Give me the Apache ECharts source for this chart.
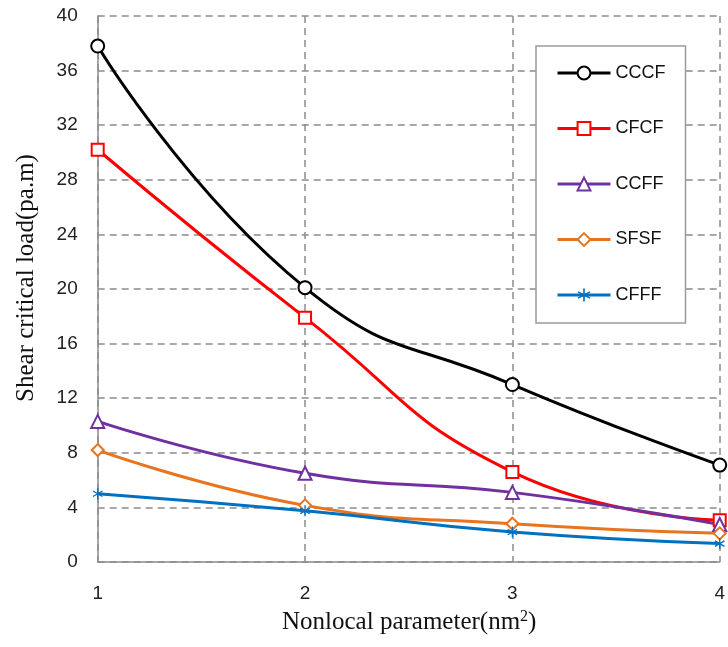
<!DOCTYPE html>
<html>
<head>
<meta charset="utf-8">
<script src="https://cdn.jsdelivr.net/npm/echarts@6/dist/echarts.min.js"></script>
<style>html,body{margin:0;padding:0;background:#fff}#c{width:728px;height:647px}</style>
</head>
<body>
<div id="c"></div>
<script>
const xValues = [1, 2, 3, 4];
const seriesNames = ['CCCF', 'CFCF', 'CCFF', 'SFSF', 'CFFF'];
const CCCF = [37.8, 20.1, 13.0, 7.1];
const CFCF = [30.2, 17.9, 6.6, 3.05];
const CCFF = [10.3, 6.5, 5.1, 2.75];
const SFSF = [8.2, 4.15, 2.8, 2.1];
const CFFF = [5.0, 3.75, 2.2, 1.35];
const yTicks = [0, 4, 8, 12, 16, 20, 24, 28, 32, 36, 40];
const xTitle = 'Nonlocal parameter(nm{sup|2})';
const yTitle = 'Shear critical load(pa.m)';

const colors = ['#000000', '#FF0000', '#7030A0', '#E8741E', '#0070C0'];
const asterisk = 'path://M4.4,0 L5.6,0 L5.6,10 L4.4,10 Z M0.37,3.02 L0.97,1.98 L9.63,6.98 L9.03,8.02 Z M0.37,6.98 L9.03,1.98 L9.63,3.02 L0.97,8.02 Z';
const symbols = ['emptyCircle', 'emptyRect', 'emptyTriangle', 'emptyDiamond', asterisk];
const sizes = [13, 12, 13, 12, 11];
const dataSets = [CCCF, CFCF, CCFF, SFSF, CFFF];

const chart = echarts.init(document.getElementById('c'), null, {renderer: 'canvas'});
const gridLine = {show: true, lineStyle: {color: '#8c8c8c', width: 1.5, type: [7, 5]}};
const option = {
  animation: false,
  backgroundColor: '#ffffff',
  grid: {left: 97.7, right: 8, top: 16, bottom: 85},
  xAxis: {
    type: 'value', min: 1, max: 4, interval: 1,
    axisLine: {show: true, onZero: false, lineStyle: {color: '#8c8c8c', width: 1.5}},
    axisTick: {show: false},
    axisLabel: {margin: 22, fontSize: 19, color: '#222', fontFamily: 'Liberation Sans'},
    splitLine: gridLine
  },
  yAxis: {
    type: 'value', min: yTicks[0], max: yTicks[yTicks.length - 1], interval: 4,
    axisLine: {show: true, lineStyle: {color: '#8c8c8c', width: 1.5}},
    axisTick: {show: false},
    axisLabel: {margin: 20, fontSize: 19, color: '#222', fontFamily: 'Liberation Sans'},
    splitLine: gridLine
  },
  legend: {
    orient: 'vertical', left: 536, top: 46,
    data: seriesNames,
    backgroundColor: '#fff', borderColor: '#9a9a9a', borderWidth: 1.5,
    padding: [18, 20, 19, 20],
    itemWidth: 53, itemHeight: 16, itemGap: 37.5,
    lineStyle: {width: 3},
    textStyle: {fontSize: 18, color: '#111', fontFamily: 'Liberation Sans'}
  },
  graphic: [
    {type: 'text', left: 282, top: 609, style: {
      text: xTitle,
      font: '25px "Liberation Serif"', fill: '#111',
      rich: {sup: {fontSize: 16, fontFamily: 'Liberation Serif', padding: [0, 0, 10, 0], fill: '#111'}}
    }},
    {type: 'text', x: 26, y: 278, rotation: Math.PI / 2, style: {
      text: yTitle, font: '25px "Liberation Serif"', fill: '#111',
      align: 'center', verticalAlign: 'middle'
    }}
  ],
  series: seriesNames.map((n, i) => ({
    name: n, type: 'line', smooth: 0.5,
    data: xValues.map((x, j) => [x, dataSets[i][j]]),
    symbol: symbols[i], symbolSize: sizes[i], symbolKeepAspect: true,
    showAllSymbol: true,
    lineStyle: {color: colors[i], width: 3},
    itemStyle: {color: colors[i], borderColor: colors[i], borderWidth: i === 4 ? 0 : 2}
  }))
};
chart.setOption(option);
</script>
</body>
</html>
